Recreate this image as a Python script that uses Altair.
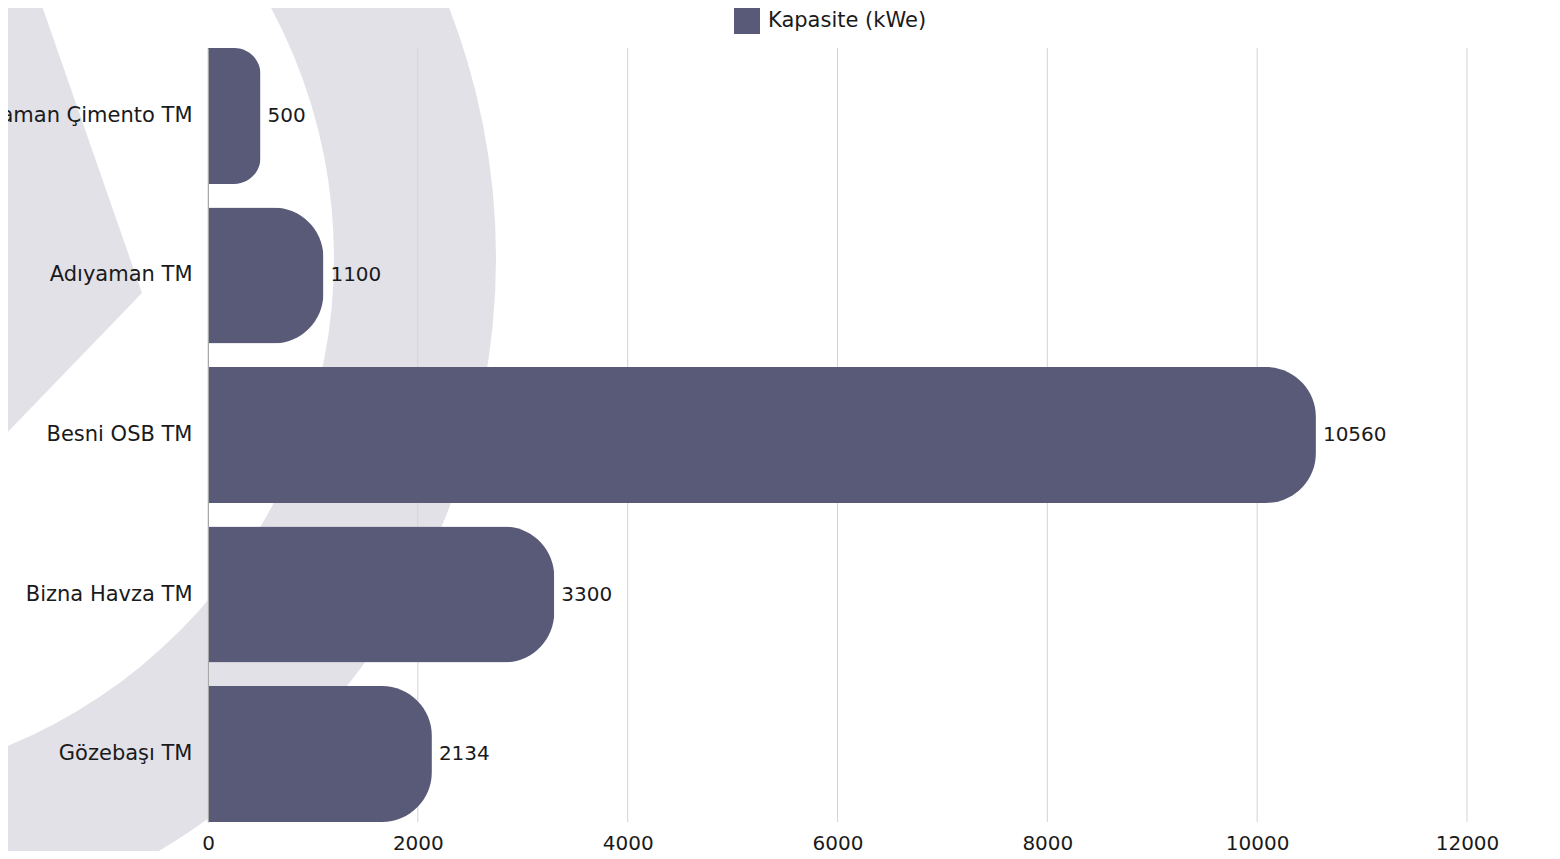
import altair as alt
import pandas as pd

# Data
categories = ["Adıyaman Çimento TM", "Adıyaman TM", "Besni OSB TM", "Bizna Havza TM", "Gözebaşı TM"]
capacity_kwe = [500, 1100, 10560, 3300, 2134]
series_name = "Kapasite (kWe)"
x_ticks = [0, 2000, 4000, 6000, 8000, 10000, 12000]

FONT = "DejaVu Sans"
FS = 21
BAR = "#595a78"
BG = "#e2e1e8"
TXT = "#1a1a1a"

W, H = 1259, 774

df = pd.DataFrame({"station": categories, "value": capacity_kwe, "series": [series_name] * len(categories)})
ticks_df = pd.DataFrame({"t": x_ticks})
one = pd.DataFrame({"k": [0]})

x_scale = alt.Scale(domain=[0, 12000], nice=False)
y_scale = alt.Scale(domain=categories, paddingInner=0.148, paddingOuter=0)
x_axis = alt.Axis(values=x_ticks, format="d", grid=False, ticks=False, domain=False,
                  labelFont=FONT, labelFontSize=FS - 1, labelColor=TXT,
                  labelBaseline="middle", labelPadding=21, title=None, zindex=1,
                  labelFlush=False)

# decorative background watermark (ring + wedge)
ring = alt.Chart(one).mark_arc(
    color=BG, radius=528, radius2=690, theta=0, theta2=6.2832
).encode(x=alt.value(-402), y=alt.value(210))

wedge = alt.Chart(one).mark_arc(
    color=BG, radius=700, theta=3.91, theta2=5.948
).encode(x=alt.value(-66), y=alt.value(245))

grid = alt.Chart(ticks_df).mark_rule(color="#d4d4d4", strokeWidth=1).encode(
    x=alt.X("t:Q", scale=x_scale, axis=x_axis)
)

bars = alt.Chart(df).mark_bar(cornerRadiusEnd=50).encode(
    x=alt.X("value:Q", scale=x_scale, axis=x_axis),
    y=alt.Y("station:N", scale=y_scale, sort=categories,
            axis=alt.Axis(ticks=False, domain=True, domainColor="#a8a8a8", grid=False,
                          labelFont=FONT, labelFontSize=FS, labelColor=TXT,
                          labelPadding=16, labelLimit=400, title=None, zindex=1)),
    color=alt.Color("series:N", scale=alt.Scale(range=[BAR]),
                    legend=alt.Legend(title=None, orient="none", legendX=526, legendY=-40,
                                      symbolType="square", symbolSize=676, symbolStrokeWidth=0,
                                      labelFont=FONT, labelFontSize=FS, labelColor=TXT,
                                      labelLimit=400, symbolOpacity=1, padding=0,
                                      labelOffset=8)),
)

labels = alt.Chart(df).mark_text(
    align="left", baseline="middle", dx=7, font=FONT, fontSize=FS - 1, color=TXT
).encode(
    x=alt.X("value:Q", scale=x_scale, axis=x_axis),
    y=alt.Y("station:N", scale=y_scale, sort=categories),
    text=alt.Text("value:Q"),
)

chart = alt.layer(ring, wedge, grid, bars, labels).properties(
    width=W, height=H,
    background="white",
    autosize=alt.AutoSizeParams(type="none"),
    padding={"left": 200, "top": 40, "right": 85, "bottom": 29},
).configure_view(stroke="transparent", strokeWidth=0)

chart.save("out.html", embed_options={"renderer": "svg", "actions": False})
